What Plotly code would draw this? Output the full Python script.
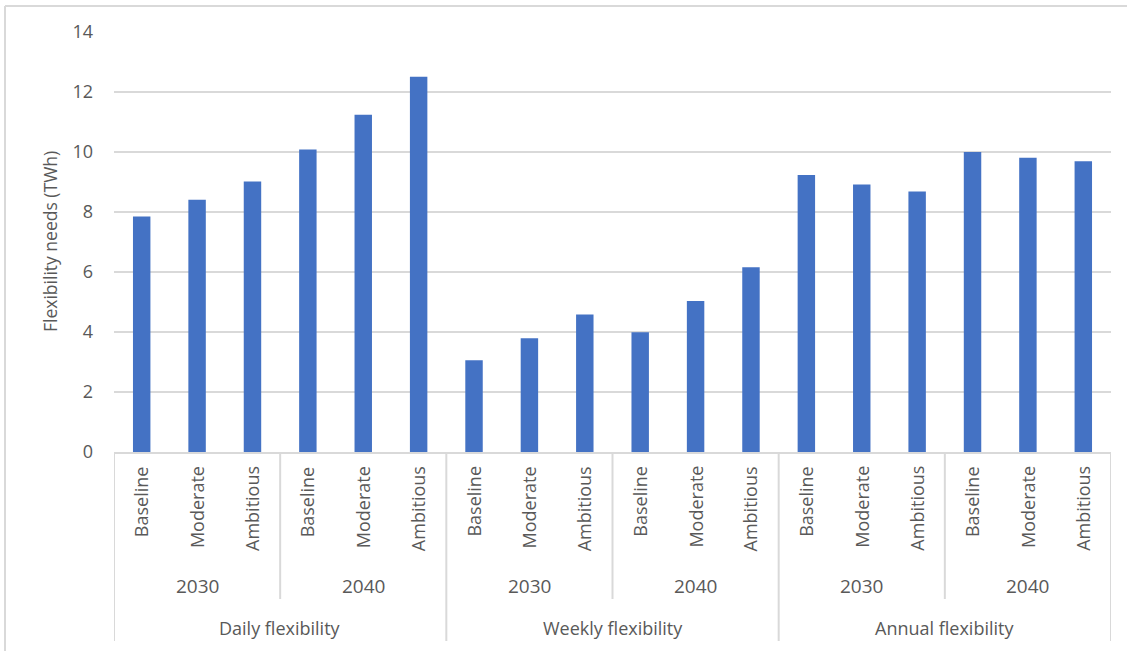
import plotly.graph_objects as go

# Flexibility needs (TWh) per flexibility horizon, year and scenario
flex_types = ["Daily flexibility", "Weekly flexibility", "Annual flexibility"]
years = ["2030", "2040"]
scenarios = ["Baseline", "Moderate", "Ambitious"]

daily = [7.85, 8.41, 9.02, 10.08, 11.24, 12.51]
weekly = [3.06, 3.79, 4.58, 3.99, 5.03, 6.16]
annual = [9.23, 8.92, 8.68, 10.00, 9.81, 9.69]

y_ticks = [0, 2, 4, 6, 8, 10, 12, 14]

values = daily + weekly + annual
labels = []
for t in flex_types:
    for yr in years:
        for s in scenarios:
            labels.append(f"{t} / {yr} / {s}")
xs = list(range(len(values)))

# Page and plot-area geometry (pixels)
W_PAGE, H_PAGE = 1127, 651
L, R, T, B = 114, 1111, 32, 452
PW, PH = R - L, B - T


def py(p):
    """Pixel row -> paper y."""
    return (B - p) / PH


def px(p):
    """Pixel column -> paper x."""
    return (p - L) / PW


GRID = "#d9d9d9"
TEXT = "#595959"
FONT = "Open Sans"

fig = go.Figure(
    go.Bar(
        x=xs,
        y=values,
        width=0.315,
        marker=dict(color="#4472C4", line=dict(width=0)),
        hovertext=labels,
        hoverinfo="text+y",
    )
)

shapes = []
annotations = []

# Outer chart frame (top and left edges)
shapes.append(dict(type="line", xref="paper", yref="paper",
                   x0=px(5), x1=px(5), y0=py(H_PAGE + 5), y1=py(6),
                   line=dict(color=GRID, width=2)))
shapes.append(dict(type="line", xref="paper", yref="paper",
                   x0=px(5), x1=px(W_PAGE + 5), y0=py(6), y1=py(6),
                   line=dict(color=GRID, width=2)))

# Hierarchical category axis: separators and labels
n_s, n_y = len(scenarios), len(years)
group = n_s * n_y
for k in range(len(values) + 1):
    if k % group == 0:
        bottom = 641
    elif k % n_s == 0:
        bottom = 599
    else:
        continue
    shapes.append(dict(type="line", xref="x", yref="paper",
                       x0=k - 0.5, x1=k - 0.5, y0=0, y1=py(bottom),
                       line=dict(color=GRID, width=2)))

for i in xs:
    annotations.append(dict(x=i, y=py(464), xref="x", yref="paper",
                            text=scenarios[i % n_s], textangle=-90,
                            showarrow=False, xanchor="center", yanchor="top",
                            font=dict(family=FONT, size=18, color=TEXT)))

for ti, t in enumerate(flex_types):
    for yi, yr in enumerate(years):
        c = ti * group + yi * n_s + (n_s - 1) / 2
        annotations.append(dict(x=c, y=py(586), xref="x", yref="paper",
                                text=yr, showarrow=False,
                                xanchor="center", yanchor="middle",
                                font=dict(family=FONT, size=19, color=TEXT)))
    c = ti * group + (group - 1) / 2
    annotations.append(dict(x=c, y=py(628), xref="x", yref="paper",
                            text=t, showarrow=False,
                            xanchor="center", yanchor="middle",
                            font=dict(family=FONT, size=18, color=TEXT)))

# Y axis title
annotations.append(dict(x=px(50), y=py((T + B) / 2), xref="paper", yref="paper",
                        text="Flexibility needs (TWh)", textangle=-90,
                        showarrow=False, xanchor="center", yanchor="middle",
                        font=dict(family=FONT, size=17.5, color=TEXT)))

fig.update_layout(
    width=W_PAGE,
    height=H_PAGE,
    margin=dict(l=L, r=W_PAGE - R, t=T, b=H_PAGE - B, pad=0),
    paper_bgcolor="white",
    plot_bgcolor="white",
    showlegend=False,
    shapes=shapes,
    annotations=annotations,
    xaxis=dict(
        range=[-0.5, len(values) - 0.5],
        showticklabels=False,
        showgrid=False,
        zeroline=False,
        showline=True,
        linecolor=GRID,
        linewidth=2,
        ticks="",
        fixedrange=True,
    ),
    yaxis=dict(
        range=[0, 14],
        tickvals=y_ticks,
        ticktext=[str(v) for v in y_ticks],
        showgrid=True,
        gridcolor=GRID,
        gridwidth=2,
        zeroline=False,
        showline=False,
        ticks="",
        ticklabelstandoff=20,
        tickfont=dict(family=FONT, size=18, color=TEXT),
        fixedrange=True,
    ),
)

fig.write_html("out.html", config={"displayModeBar": False})
